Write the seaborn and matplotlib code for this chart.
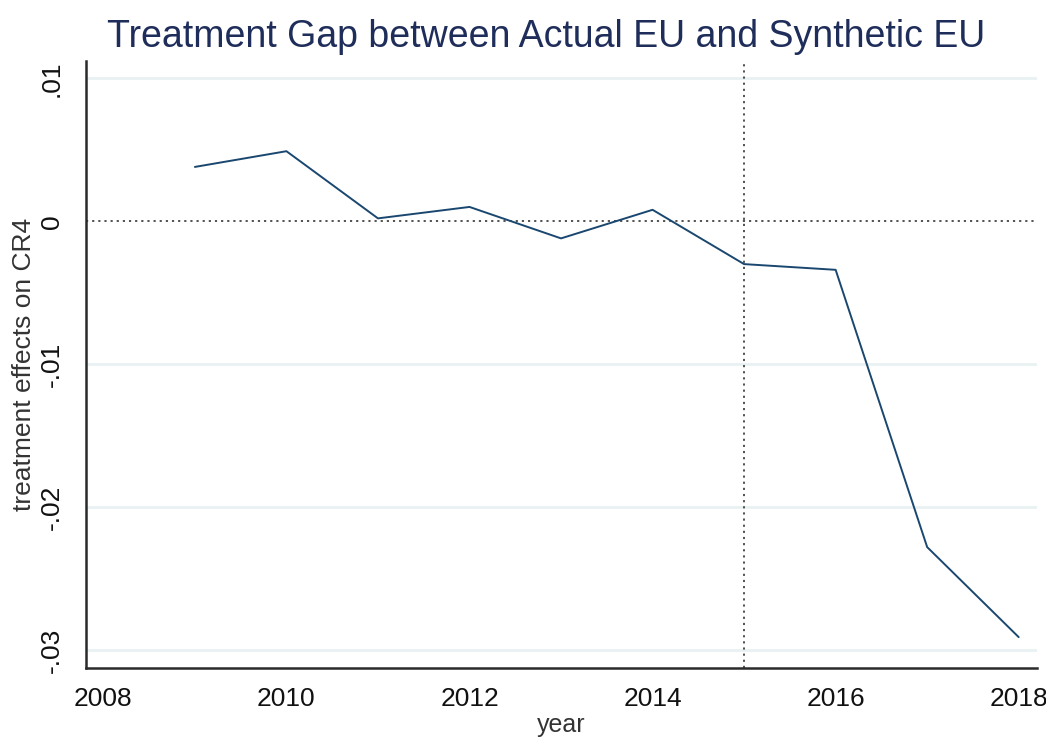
import numpy as np
import pandas as pd
import matplotlib
matplotlib.use("Agg")
import matplotlib.pyplot as plt
import seaborn as sns

# Treatment gap (actual minus synthetic) by year
years = [2009, 2010, 2011, 2012, 2013, 2014, 2015, 2016, 2017, 2018]
gap = [0.0038, 0.0049, 0.0002, 0.0010, -0.0012, 0.0008, -0.0030, -0.0034, -0.0228, -0.0291]

x_ticks = [2008, 2010, 2012, 2014, 2016, 2018]
y_ticks = [0.01, 0.0, -0.01, -0.02, -0.03]
y_tick_labels = [".01", "0", "-.01", "-.02", "-.03"]
treatment_year = 2015

df = pd.DataFrame({"year": years, "gap": gap})

sns.set_theme(style="white")
plt.rcParams["font.family"] = ["Liberation Sans", "DejaVu Sans"]

fig = plt.figure(figsize=(10.46, 7.37), dpi=100)
ax = fig.add_axes([0.0822, 0.094, 0.9092, 0.8236])

# light horizontal grid at the non-zero ticks
for yv in y_ticks:
    if yv != 0:
        ax.axhline(yv, color="#e9f1f2", lw=2.0, zorder=0)

# reference lines
ax.axhline(0, color="#444444", lw=1.3, ls=(0, (1.2, 2.2)), zorder=1)
ax.axvline(treatment_year, color="#444444", lw=1.3, ls=(0, (1.2, 2.2)), zorder=1)

sns.lineplot(data=df, x="year", y="gap", ax=ax, color="#1a476f", lw=1.4, zorder=3)

ax.set_xlim(2007.81, 2018.2)
ax.set_ylim(-0.03124, 0.01123)
ax.set_xticks(x_ticks)
ax.set_xticklabels([str(v) for v in x_ticks])
ax.set_yticks(y_ticks)
ax.set_yticklabels(y_tick_labels, rotation=90, va="center")

for s in ["top", "right"]:
    ax.spines[s].set_visible(False)
for s in ["left", "bottom"]:
    ax.spines[s].set_color("#2b2b2b")
    ax.spines[s].set_linewidth(1.8)

ax.tick_params(axis="both", which="major", direction="out", length=8, width=1.6,
               color="#2b2b2b", labelsize=19, labelcolor="#111111")
ax.tick_params(axis="x", pad=6)
ax.tick_params(axis="y", pad=8)

ax.set_xlabel("year", fontsize=18, color="#333333", labelpad=1)
ax.set_ylabel("treatment effects on CR4", fontsize=19, color="#333333", labelpad=3)

fig.text(0.5225, 1 - 46.7 / 737, "Treatment Gap between Actual EU and Synthetic EU",
         ha="center", va="baseline", fontsize=27, color="#1f2d5a")

fig.savefig("out.png", dpi=100)
